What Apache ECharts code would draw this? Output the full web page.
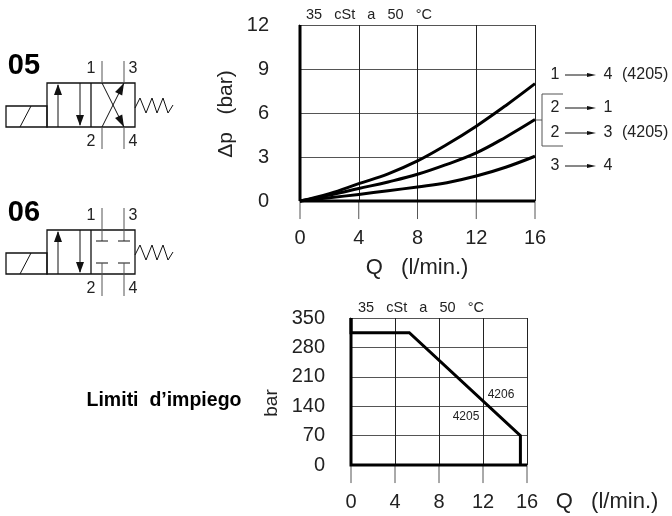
<!DOCTYPE html>
<html>

<head>
    <meta charset="utf-8">
    <title>chart</title>
    <script src="https://cdn.jsdelivr.net/npm/echarts@6/dist/echarts.min.js"></script>
    <style>
        html, body { margin: 0; padding: 0; background: #fff; }
        #main { width: 672px; height: 516px; }
    </style>
</head>

<body>
    <div id="main"></div>
    <script>
        // top chart, delta p vs Q
        var flowTicks = [0, 2, 4, 6, 8, 10, 12, 14, 16];
        var curve14 = [0, 0.5, 1.18, 1.85, 2.73, 3.85, 5.1, 6.5, 8.0];
        var curve2x = [0, 0.4, 0.85, 1.3, 1.82, 2.5, 3.28, 4.35, 5.55];
        var curve34 = [0, 0.22, 0.45, 0.7, 0.96, 1.25, 1.7, 2.3, 3.05];
        var qTicks = [0, 4, 8, 12, 16];
        var dpTicks = [0, 3, 6, 9, 12];

        // bottom chart, working limits
        var limitQ = [0, 0, 5.3, 15.4, 15.4];
        var limitP = [350, 315, 315, 70, 0];
        var barTicks = [0, 70, 140, 210, 280, 350];
        var legendRows = [
            ['1', '4', '(4205)'],
            ['2', '1', ''],
            ['2', '3', '(4205)'],
            ['3', '4', '']
        ];

        var FONT = 'Liberation Sans';
        var INK = '#111';

        function pairs(xs, ys) {
            return xs.map(function (x, i) { return [x, ys[i]]; });
        }

        function line(x1, y1, x2, y2, w, color) {
            return {
                type: 'line',
                shape: { x1: x1, y1: y1, x2: x2, y2: y2 },
                style: { stroke: color || INK, lineWidth: w || 1 }
            };
        }

        function text(s, x, y, size, opts) {
            opts = opts || {};
            return {
                type: 'text',
                x: x,
                y: y,
                rotation: opts.rotation || 0,
                style: {
                    text: s,
                    x: 0,
                    y: 0,
                    fill: opts.fill || '#222',
                    font: (opts.weight || 'normal') + ' ' + size + 'px "' + FONT + '"',
                    align: opts.align || 'center',
                    verticalAlign: 'middle'
                }
            };
        }

        function head(x1, y1, x2, y2, len, halfW) {
            // filled arrow head with its tip at x2,y2
            var dx = x2 - x1, dy = y2 - y1;
            var d = Math.sqrt(dx * dx + dy * dy);
            var ux = dx / d, uy = dy / d;
            var bx = x2 - ux * len, by = y2 - uy * len;
            return {
                type: 'polygon',
                shape: { points: [[x2, y2], [bx - uy * halfW, by + ux * halfW], [bx + uy * halfW, by - ux * halfW]] },
                style: { fill: INK }
            };
        }

        function valve(name, dy, crossed) {
            var c = [];
            c.push(text(name, 24, 66 + dy, 29, { weight: 'bold', fill: '#000' }));
            c.push({ type: 'rect', shape: { x: 47, y: 83 + dy, width: 88, height: 44 }, style: { fill: 'none', stroke: INK, lineWidth: 1.3 } });
            c.push(line(91, 83 + dy, 91, 127 + dy, 1.3));
            c.push({ type: 'rect', shape: { x: 6, y: 106 + dy, width: 41, height: 21 }, style: { fill: 'none', stroke: INK, lineWidth: 1.3 } });
            c.push(line(20, 127 + dy, 31, 106 + dy));
            c.push(line(58, 85 + dy, 58, 127 + dy));
            c.push(head(58, 127 + dy, 58, 84 + dy, 11, 4));
            c.push(line(80, 83 + dy, 80, 125 + dy));
            c.push(head(80, 83 + dy, 80, 126 + dy, 11, 4));
            if (crossed) {
                c.push(line(102, 61 + dy, 102, 83 + dy, 1, '#555'));
                c.push(line(124, 61 + dy, 124, 83 + dy, 1, '#555'));
                c.push(line(102, 127 + dy, 102, 149 + dy, 1, '#555'));
                c.push(line(124, 127 + dy, 124, 149 + dy, 1, '#555'));
                c.push(line(102, 83 + dy, 124, 127 + dy));
                c.push(line(102, 127 + dy, 124, 83 + dy));
                c.push(head(102, 127 + dy, 124, 83 + dy, 12, 4));
                c.push(head(102, 83 + dy, 124, 127 + dy, 12, 4));
            } else {
                [102, 124].forEach(function (x) {
                    c.push(line(x, 61 + dy, x, 94 + dy, 1, '#555'));
                    c.push(line(x - 6, 94 + dy, x + 6, 94 + dy));
                    c.push(line(x - 6, 116 + dy, x + 6, 116 + dy));
                    c.push(line(x, 116 + dy, x, 149 + dy, 1, '#555'));
                });
            }
            c.push({
                type: 'polyline',
                shape: { points: [[135, 108 + dy], [140, 98 + dy], [146, 113 + dy], [152, 98 + dy], [157, 113 + dy], [163, 98 + dy], [168, 113 + dy], [173, 105 + dy]] },
                style: { fill: 'none', stroke: INK, lineWidth: 1 }
            });
            c.push(text('1', 91, 69 + dy, 16));
            c.push(text('3', 133, 69 + dy, 16));
            c.push(text('2', 91, 142 + dy, 16));
            c.push(text('4', 133, 142 + dy, 16));
            return c;
        }

        function legendGraphics() {
            var rowY = [75, 108, 133, 166];
            var c = [];
            legendRows.forEach(function (row, i) {
                var y = rowY[i];
                c.push(text(row[0], 555, y, 16));
                c.push(line(565, y, 590, y));
                c.push(head(565, y, 596, y, 9, 2));
                c.push(text(row[1], 608, y, 16));
                if (row[2]) c.push(text(row[2], 622, y, 16, { align: 'left' }));
            });
            c.push({
                type: 'polyline',
                shape: { points: [[563, 94], [542, 94], [542, 146], [563, 146]] },
                style: { fill: 'none', stroke: '#555', lineWidth: 1 }
            });
            c.push(line(535, 120, 542, 120, 1, '#555'));
            return c;
        }

        function axisX(gridIndex, margin) {
            return {
                type: 'value', gridIndex: gridIndex, min: 0, max: 16, interval: 4,
                axisLine: { show: false },
                axisTick: { show: false },
                axisLabel: { fontFamily: FONT, fontSize: 20, color: '#222', margin: margin },
                splitLine: { show: true, lineStyle: { color: '#222', width: 1 } }
            };
        }

        function axisY(gridIndex, max, interval, margin) {
            return {
                type: 'value', gridIndex: gridIndex, min: 0, max: max, interval: interval,
                axisLine: { show: false },
                axisTick: { show: false },
                axisLabel: { fontFamily: FONT, fontSize: 20, color: '#222', margin: margin },
                splitLine: { show: true, lineStyle: { color: '#555', width: 1 } }
            };
        }

        function thick(gridIndex, data, smooth) {
            return {
                type: 'line', xAxisIndex: gridIndex, yAxisIndex: gridIndex, data: data,
                smooth: smooth || false, showSymbol: false, symbol: 'none', clip: false, z: 5,
                lineStyle: { color: '#000', width: 3, cap: 'butt', join: 'miter' }
            };
        }

        // outward ticks as thin series that run past the axis minimum
        function stub(gridIndex, data) {
            return {
                type: 'line', xAxisIndex: gridIndex, yAxisIndex: gridIndex, data: data,
                showSymbol: false, symbol: 'none', clip: false, z: 4,
                lineStyle: { color: '#555', width: 1 }
            };
        }

        function stubs(gridIndex, xTicks, yTicks, xReach, yReach) {
            var list = [];
            xTicks.forEach(function (v) { list.push(stub(gridIndex, [[v, 0], [v, -yReach]])); });
            yTicks.forEach(function (v) { list.push(stub(gridIndex, [[0, v], [-xReach, v]])); });
            return list;
        }

        var chart = echarts.init(document.getElementById('main'), null, { renderer: 'canvas' });
        chart.setOption({
            animation: false,
            backgroundColor: '#fff',
            grid: [
                { left: 300, top: 25, width: 235, height: 176 },
                { left: 351, top: 318, width: 176, height: 147 }
            ],
            xAxis: [axisX(0, 27), axisX(1, 27)],
            yAxis: [axisY(0, 12, 3, 31), axisY(1, 350, 70, 26)],
            series: [
                thick(0, pairs(flowTicks, curve14), 0.4),
                thick(0, pairs(flowTicks, curve2x), 0.4),
                thick(0, pairs(flowTicks, curve34), 0.4),
                thick(0, [[0, 0], [0, 12]]),
                thick(0, [[0, 0], [16, 0]]),
                thick(1, pairs(limitQ, limitP)),
                thick(1, [[0, 350], [0, 0], [16, 0]])
            ].concat(stubs(0, qTicks, dpTicks, 1.29, 1.23)).concat(stubs(1, qTicks, barTicks, 1.73, 43)),
            graphic: [{
                type: 'group',
                silent: true,
                children: valve('05', 0, true)
                    .concat(valve('06', 147, false))
                    .concat(legendGraphics())
                    .concat([
                        text('35   cSt   a   50   \u00B0C', 369, 15, 14.5),
                        text('35   cSt   a   50   \u00B0C', 421, 308, 14.5),
                        text('Limiti  d\u2019impiego', 164, 401, 19.5, { weight: 'bold', fill: '#000' }),
                        text('\u0394p   (bar)', 226, 114, 21, { rotation: Math.PI / 2 }),
                        text('bar', 272, 403, 19, { rotation: Math.PI / 2 }),
                        text('Q   (l/min.)', 417, 268, 22),
                        text('Q   (l/min.)', 607, 502, 22),
                        text('4206', 501, 395, 12),
                        text('4205', 466, 417, 12)
                    ])
            }]
        });
    </script>
</body>

</html>
